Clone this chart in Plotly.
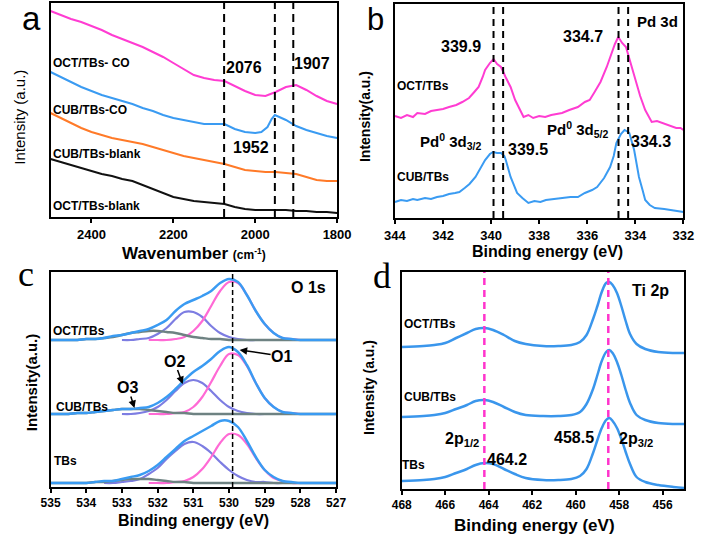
import plotly.graph_objects as go

W, H = 709, 537

# ---------------- panel a : FTIR (wavenumber, intensity a.u.) ----------------
a_wn = [2500, 2475, 2450, 2425, 2400, 2375, 2350, 2325, 2300, 2275, 2250, 2225, 2200, 2175, 2150,
        2125, 2100, 2075, 2050, 2025, 2000, 1975, 1950, 1925, 1900, 1875, 1850, 1825, 1800]
a_oct_co = [206, 202, 198, 195, 191, 187, 182, 178, 174, 170, 165, 160, 154, 148, 142,
            139, 137, 136, 131, 126, 122, 121, 125, 130, 132, 127, 121, 116, 113]
a_wn_cub = [2500, 2475, 2450, 2425, 2400, 2375, 2350, 2325, 2300, 2275, 2250, 2225, 2200, 2175, 2150,
            2125, 2100, 2075, 2050, 2025, 2000, 1985, 1970, 1960, 1952, 1940, 1925, 1900, 1875, 1850, 1825, 1800]
a_cub_co = [145, 140, 135, 130, 126, 122, 119, 116, 113, 109, 106, 102, 99, 97, 95,
            93, 93, 93, 88, 85, 84, 85, 90, 98, 102, 100, 97, 91, 87, 84, 81, 79]
a_cub_blank = [104, 99, 94, 89, 85, 82, 79, 77, 75, 73, 70, 67, 64, 61, 59,
               57, 55, 53, 50, 47, 46, 45, 45, 44, 43, 40, 37, 36, 36]
a_oct_blank = [58, 55, 52, 49, 46, 43, 41, 38, 36, 32, 28, 24, 20, 18, 16,
               15, 14, 13, 10, 8, 7, 7, 7, 7, 6, 6, 5, 5, 4]
a_marks = [2076, 1952, 1907]
a_ticks = [2400, 2200, 2000, 1800]

# ---------------- panel b : Pd 3d XPS ----------------
b_e_oct = [344, 343.75, 343.5, 343.25, 343.07, 342.75, 342.5, 342.25, 342, 341.75, 341.45, 341.2, 340.92,
           340.7, 340.52, 340.35, 340.25, 340.05, 339.9, 339.75, 339.59, 339.4, 339.19, 339.0, 338.79,
           338.65, 338.45, 338.25, 338.0, 337.75, 337.5, 337.25, 337.05, 336.75, 336.39, 336.1, 335.9,
           335.72, 335.45, 335.19, 335.0, 334.85, 334.71, 334.55, 334.39, 334.2, 333.99, 333.8, 333.59,
           333.32, 333.1, 332.79, 332.5, 332.3, 332.12, 332]
b_oct = [102, 100, 103, 101, 105, 104, 107, 108, 109, 111, 113, 116, 120,
         126, 131, 141, 148, 155, 159, 154, 151, 141, 131, 118, 108,
         101, 103, 100, 102, 101, 103, 104, 105, 108, 111, 116, 118,
         125, 136, 151, 164, 174, 181, 175, 171, 155, 138, 122, 108,
         96, 97, 94, 92, 90, 90, 88]
b_e_cub = [344, 343.75, 343.5, 343.25, 343.07, 342.75, 342.5, 342.25, 342, 341.75, 341.5, 341.32, 341.1,
           340.9, 340.65, 340.45, 340.25, 340.05, 339.92, 339.75, 339.59, 339.45, 339.39, 339.19, 339.05,
           338.92, 338.7, 338.45, 338.2, 337.95, 337.72, 337.4, 337.0, 336.7, 336.39, 336.1, 335.8,
           335.59, 335.3, 335.05, 334.9, 334.79, 334.6, 334.45, 334.3, 334.25, 334.05, 333.85, 333.7,
           333.59, 333.4, 333.19, 332.8, 332.5, 332.12, 332]
b_cub = [16, 18, 17, 19, 18, 20, 19, 21, 22, 24, 25, 26, 30,
         34, 41, 50, 58, 64, 66, 65, 65, 62, 58, 41, 32,
         25, 20, 15, 17, 16, 18, 19, 20, 21, 21, 25, 28,
         31, 40, 51, 62, 75, 84, 88, 86, 85, 68, 41, 28,
         18, 13, 10, 9, 8, 7, 6]
b_marks = [339.9, 339.5, 334.7, 334.3]
b_ticks = [344, 342, 340, 338, 336, 334, 332]

# ---------------- panel c : O 1s XPS (envelope and fitted components) ----------------
c_e = [535, 534.75, 534.5, 534.25, 534, 533.75, 533.5, 533.25, 533, 532.75, 532.5, 532.25, 532,
       531.75, 531.5, 531.25, 531, 530.75, 530.5, 530.25, 530, 529.75, 529.5, 529.25, 529,
       528.75, 528.5, 528.25, 528, 527.75, 527.5, 527.25, 527]
N = None
c_oct_o1 = [N, N, N, N, N, N, N, N, N, N, N, 147, 147, 147, 148, 150, 156, 166, 181, 196, 205,
            204, 192, 176, 163, 154, 149, 148, 147, N, N, N, N]
c_oct_o2 = [N, N, N, N, N, N, N, N, 147, 147, 148, 149, 153, 159, 168, 175, 175, 170, 161, 154, 150,
            148, 147, 147, 147, N, N, N, N, N, N, N, N]
c_oct_o3 = [147, 147, 147, 147, 148, 148, 149, 150, 152, 154, 155, 156, 156, 155, 154, 152, 150, 149,
            148, 148, 147, 147, 147, 147, 147, 147, 147, 147, 147, 147, 147, 147, 147]
c_oct_env = [147, 147, 147, 147, 148, 148, 149, 151, 152, 154, 156, 158, 162, 167, 176, 183, 187, 191,
             196, 204, 208, 205, 192, 176, 163, 154, 149, 148, 147, 147, 147, 147, 147]
c_cub_o1 = [N, N, N, N, N, N, N, N, N, N, N, 73, 73, 73, 74, 75, 80, 90, 105, 121, 133,
            132, 121, 104, 89, 80, 75, 74, 73, N, N, N, N]
c_cub_o2 = [N, N, N, N, N, N, N, N, 73, 73, 74, 76, 80, 87, 96, 104, 107, 104, 96, 87, 80,
            76, 74, 73, 73, N, N, N, N, N, N, N, N]
c_cub_o3 = [73, 73, 73, 74, 74, 75, 76, 77, 78, 78, 78, 77, 76, 75, 74, 74, 73, 73, 73, 73, 73,
            73, 73, 73, 73, 73, 73, 73, 73, 73, 73, 73, 73]
c_cub_env = [73, 73, 73, 74, 74, 75, 76, 77, 78, 78, 79, 80, 84, 90, 98, 107, 115, 121, 128, 136, 140,
             135, 122, 104, 89, 80, 75, 74, 73, 73, 73, 73, 73]
c_tbs_o1 = [N, N, N, N, N, N, N, N, N, N, N, 4, 4, 4, 5, 6, 10, 18, 30, 44, 53,
            52, 43, 29, 17, 9, 6, 4, 4, N, N, N, N]
c_tbs_o2 = [N, N, N, N, N, N, 4, 4, 5, 6, 8, 13, 19, 28, 36, 43, 45, 41, 34, 25, 17,
            11, 7, 5, 5, 4, 4, N, N, N, N, N, N]
c_tbs_o3 = [4, 4, 4, 4, 4, 5, 5, 6, 7, 8, 8, 8, 7, 6, 5, 5, 4, 4, 4, 4, 4,
            4, 4, 4, 4, 4, 4, 4, 4, 4, 4, 4, 4]
c_tbs_env = [4, 4, 4, 4, 4, 5, 6, 6, 8, 10, 12, 16, 22, 30, 38, 46, 51, 56, 61, 66, 66,
             60, 46, 30, 17, 10, 6, 5, 4, 4, 4, 4, 4]
c_marks = [529.9]
c_ticks = [535, 534, 533, 532, 531, 530, 529, 528, 527]

# ---------------- panel d : Ti 2p XPS ----------------
d_e = [468, 467, 466.5, 466, 465.5, 465, 464.6, 464.2, 463.8, 463.3, 462.8, 462.3, 461.5, 460.8, 460.2,
       459.8, 459.5, 459.2, 459, 458.8, 458.6, 458.45, 458.3, 458.1, 457.9, 457.7, 457.5, 457.2, 456.8,
       456.2, 455.5, 455]
d_oct = [142, 143, 144, 146, 151, 156, 160, 161, 159, 154, 148, 145, 143, 143, 144,
         147, 154, 170, 183, 197, 206, 207, 204, 196, 183, 168, 155, 145, 140,
         137, 136, 136]
d_cub = [72, 73, 74, 76, 80, 84, 88, 89, 87, 82, 77, 74, 73, 73, 74,
         77, 85, 100, 114, 128, 137, 139, 136, 127, 114, 99, 86, 74, 69,
         66, 65, 65]
d_tbs = [8, 9, 10, 12, 16, 20, 24, 26, 25, 20, 15, 11, 9, 9, 10,
         13, 20, 36, 49, 61, 69, 71, 68, 61, 50, 37, 25, 12, 7,
         4, 2, 1]
d_marks = [464.2, 458.5]
d_ticks = [468, 466, 464, 462, 460, 458, 456]

# ---------------- figure ----------------
MAG = "#FF3CD2"
BLUE = "#3A9BF2"
ORANGE = "#FF7A28"
PINK = "#FF6AD5"
PURPLE = "#7D7DE2"
GREY = "#6E8282"

fig = go.Figure()


def line(x, y, color, width, ax, shape="linear"):
    fig.add_trace(go.Scatter(x=x, y=y, mode="lines", line=dict(color=color, width=width, shape=shape),
                             connectgaps=False, xaxis="x" + ax, yaxis="y" + ax, hoverinfo="skip"))


# panel a
line(a_wn, a_oct_co, MAG, 2, "")
line(a_wn_cub, a_cub_co, BLUE, 2, "")
line(a_wn, a_cub_blank, ORANGE, 2, "")
line(a_wn, a_oct_blank, "#111111", 2, "")
# panel b
line(b_e_oct, b_oct, MAG, 2, "2")
line(b_e_cub, b_cub, BLUE, 2, "2")
# panel c
for o3, o2, o1, env in [(c_oct_o3, c_oct_o2, c_oct_o1, c_oct_env),
                        (c_cub_o3, c_cub_o2, c_cub_o1, c_cub_env),
                        (c_tbs_o3, c_tbs_o2, c_tbs_o1, c_tbs_env)]:
    line(c_e, o2, PURPLE, 2.2, "3", "spline")
    line(c_e, o1, PINK, 2.2, "3", "spline")
    line(c_e, o3, GREY, 2.5, "3", "spline")
    line(c_e, env, BLUE, 2.5, "3", "spline")
# panel d
for arr in (d_oct, d_cub, d_tbs):
    line(d_e, arr, "#3A96EC", 2.5, "4", "spline")

# dashed marker lines
for xs, ax, col, w, dash in [(a_marks, "x", "black", 2, "8px,5px"),
                             (b_marks, "x2", "black", 2, "7px,5px"),
                             (c_marks, "x3", "black", 1.5, "5px,3px"),
                             (d_marks, "x4", "#FF33CC", 2.5, "7px,5px")]:
    yd = ax.replace("x", "y") + " domain"
    for xv in xs:
        fig.add_shape(type="line", xref=ax, yref=yd, x0=xv, x1=xv, y0=0, y1=1,
                      line=dict(color=col, width=w, dash=dash), layer="above")


def xax(dom, rng, ticks, anchor, size):
    return dict(domain=[dom[0] / W, dom[1] / W], range=rng, tickvals=ticks, ticks="outside", ticklen=4,
                tickwidth=1.5, tickcolor="black", showline=True, linecolor="black", linewidth=2, mirror=True,
                showgrid=False, zeroline=False, anchor=anchor,
                tickfont=dict(family="Arial", size=size, color="black", weight="bold"))


def yax(dom, rng, anchor):
    return dict(domain=[1 - dom[1] / H, 1 - dom[0] / H], range=rng, showticklabels=False, ticks="",
                showline=True, linecolor="black", linewidth=2, mirror=True, showgrid=False,
                zeroline=False, anchor=anchor)


fig.update_layout(
    width=W, height=H, margin=dict(l=0, r=0, t=0, b=0), showlegend=False,
    paper_bgcolor="white", plot_bgcolor="white",
    xaxis=xax((41, 338), [2500, 1800], a_ticks, "y", 13),
    yaxis=yax((3, 217), [0, 214], "x"),
    xaxis2=xax((398, 697), [344, 332], b_ticks, "y2", 13),
    yaxis2=yax((4, 218), [0, 214], "x2"),
    xaxis3=xax((41, 337), [535, 527], c_ticks, "y3", 12),
    yaxis3=yax((272, 487), [0, 215], "x3"),
    xaxis4=xax((405, 698), [468, 455], d_ticks, "y4", 12),
    yaxis4=yax((272, 489), [0, 217], "x4"),
)


def txt(t, x, y, size, anchor="left", bold=True, family="Arial", angle=0, arrow=None):
    kw = dict(showarrow=False)
    if arrow is not None:
        hx, hy = arrow
        kw = dict(showarrow=True, ax=x - hx, ay=y - hy, axref="pixel", ayref="pixel",
                  arrowhead=2, arrowsize=1, arrowwidth=1.5, arrowcolor="black")
        x, y = hx, hy
    fig.add_annotation(text=("<b>%s</b>" % t) if bold else t, x=x / W, y=1 - y / H, xref="paper", yref="paper",
                       xanchor=anchor, yanchor="middle", textangle=angle, borderpad=0,
                       font=dict(family=family, size=size, color="black"), **kw)


# panel letters
txt("a", 21, 18.5, 33, "center", False)
txt("b", 378, 19.5, 31, "center", False)
txt("c", 16, 274, 36, "center", False, "Liberation Serif")
txt("d", 385, 276, 36, "center", False, "Liberation Serif")

# axis titles
txt("Intensity (a.u.)", 9, 117, 15, "center", False, angle=-90)
txt("Intensity(a.u.)", 367, 117, 14, "center", True, angle=-90)
txt("Intensity(a.u.)", 21, 382, 15, "center", True, angle=-90)
txt("Intensity (a.u.)", 371, 387, 14, "center", True, angle=-90)
txt("Wavenumber <span style='font-size:12px'>(cm<sup>-1</sup>)</span>", 190, 253, 17, "center")
txt("Binding energy (eV)", 556, 252, 16, "center")
txt("Binding energy (eV)", 189, 520, 16, "center")
txt("Binding energy (eV)", 543, 525, 17, "center")

# panel a labels
txt("OCT/TBs- CO", 42, 63, 12)
txt("CUB/TBs-CO", 42, 110, 12)
txt("CUB/TBs-blank", 42, 154, 12)
txt("OCT/TBs-blank", 42, 206, 12)
txt("2076", 222, 68, 16)
txt("1907", 292, 64, 16)
txt("1952", 229, 148, 16)

# panel b labels
txt("339.9", 466, 47, 16, "center")
txt("334.7", 593, 37, 16, "center")
txt("Pd 3d", 670, 21, 15, "center")
txt("OCT/TBs", 399, 86, 12)
txt("Pd<sup>0</sup> 3d<sub>5/2</sub>", 555, 129, 15)
txt("Pd<sup>0</sup> 3d<sub>3/2</sub>", 423, 141, 15)
txt("339.5", 514, 149, 16)
txt("334.3", 642, 141, 16)
txt("CUB/TBs", 399, 177, 12)

# panel c labels (O1/O2/O3 carry their arrows)
txt("O 1s", 289, 287, 16)
txt("OCT/TBs", 43, 331, 12)
txt("O1", 279, 356, 16, "center", arrow=(237, 350))
txt("O2", 169.5, 361, 16, "center", arrow=(178, 384))
txt("O3", 121.5, 387.5, 16, "center", arrow=(128, 408))
txt("CUB/TBs", 46, 407, 12)
txt("TBs", 44, 461, 12)

# panel d labels
txt("Ti 2p", 643, 290, 16)
txt("OCT/TBs", 406, 324, 12)
txt("CUB/TBs", 406, 397, 12)
txt("2p<sub>1/2</sub>", 449, 439, 16)
txt("458.5", 562, 437, 16)
txt("2p<sub>3/2</sub>", 629, 439, 16)
txt("464.2", 492, 459, 16)
txt("TBs", 404, 465, 12)

fig.write_html("out.html", config={"displayModeBar": False},
               post_script="document.body.style.margin='0px';document.body.style.overflow='hidden';")
